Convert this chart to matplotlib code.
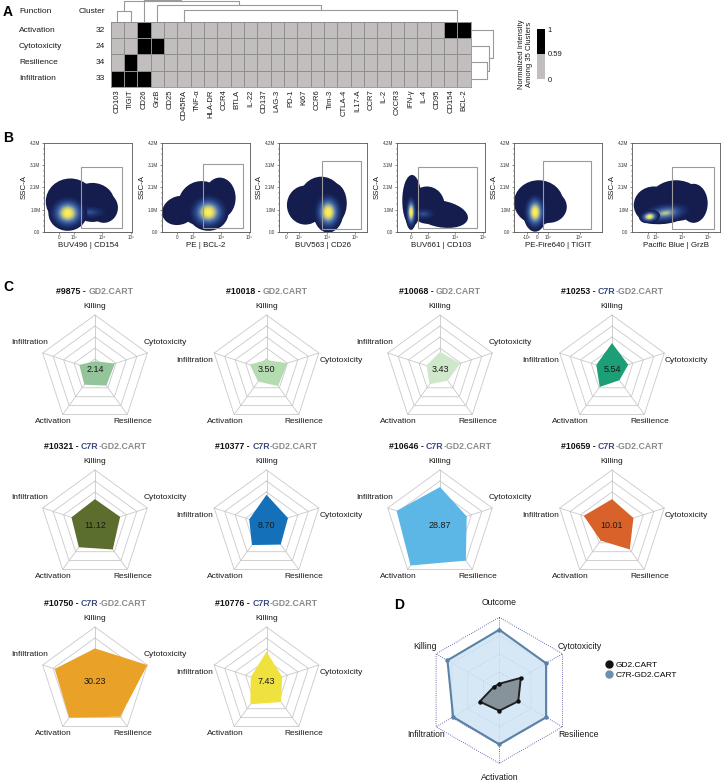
import numpy as np
import matplotlib
matplotlib.use("Agg")
import matplotlib.pyplot as plt
from matplotlib.patches import Ellipse, Rectangle
from matplotlib.colors import ListedColormap, BoundaryNorm, LinearSegmentedColormap
from matplotlib.cm import ScalarMappable
from matplotlib.lines import Line2D
from matplotlib import ticker

plt.rcParams['font.family'] = ['Liberation Sans', 'DejaVu Sans']

# ---------------- DATA ----------------
# Panel A
markers = ["CD103", "TIGIT", "CD26", "GrzB", "CD25", "CD45RA", "TNF-α", "HLA-DR", "CCR4",
           "BTLA", "IL-22", "CD137", "LAG-3", "PD-1", "Ki67", "CCR6", "Tim-3", "CTLA-4",
           "IL17-A", "CCR7", "IL-2", "CXCR3", "IFN-γ", "IL-4", "CD95", "CD154", "BCL-2"]
functions = ["Activation", "Cytotoxicity", "Resilience", "Infiltration"]
clusters = [32, 24, 34, 33]
high_markers = {"Activation": ["CD26", "CD154", "BCL-2"],
                "Cytotoxicity": ["CD26", "GrzB"],
                "Resilience": ["TIGIT"],
                "Infiltration": ["CD103", "TIGIT", "CD26"]}
high_level = 1.0
low_level = 0.3
threshold = 0.59
# column dendrogram links: (x_left, x_right, height, h_left_child, h_right_child)
col_links = [(0.5, 1.5, 11, 0, 0),
             (5.5, 26.0, 12, 0, 0),
             (3.5, 15.75, 17, 0, 12),
             (1.0, 9.625, 21, 11, 17),
             (2.5, 5.3125, 22.5, 0, 21)]
# row dendrogram links: (y_top, y_bottom, dist, d_top_child, d_bottom_child)
row_links = [(2.5, 3.5, 16, 0, 0),
             (1.5, 3.0, 18.6, 0, 16),
             (0.5, 2.25, 22, 0, 18.6)]

# Panel B
flow_labels = ["BUV496 | CD154", "PE | BCL-2", "BUV563 | CD26", "BUV661 | CD103",
               "PE-Fire640 | TIGIT", "Pacific Blue | GrzB"]
flow_xlim = [(-1060, 1.1e5), (-975, 1.06e5), (-630, 2.6e5), (-830, 1.2e5),
             (-2570, 5.2e4), (-1860, 2.8e5)]
flow_linscale = [0.46, 0.51, 0.38, 0.55, 0.31, 0.30]
flow_xticks = [[0, 1e3, 1e4, 1e5], [0, 1e3, 1e4, 1e5], [0, 1e3, 1e4, 1e5],
               [0, 1e3, 1e4, 1e5], [-1e3, 0, 1e3, 1e4], [0, 1e3, 1e4, 1e5]]
flow_xticklabels = [["0", "10³", "10⁴", "10⁵"], ["0", "10³", "10⁴", "10⁵"],
                    ["0", "10³", "10⁴", "10⁵"], ["0", "10³", "10⁴", "10⁵"],
                    ["-10³", "0", "10³", "10⁴"], ["0", "10³", "10⁴", "10⁵"]]
ssc_ticks = [0, 1.05e6, 2.1e6, 3.15e6, 4.2e6]
ssc_ticklabels = ["0.0", "1.0M", "2.1M", "3.1M", "4.2M"]
# gates in axes fraction: (x0, x1, y0, y1)
flow_gates = [(0.417, 0.89, 0.04, 0.733), (0.465, 0.928, 0.04, 0.76),
              (0.485, 0.928, 0.03, 0.80), (0.242, 0.906, 0.04, 0.733),
              (0.333, 0.875, 0.03, 0.80), (0.451, 0.932, 0.03, 0.733)]
# density clouds in axes fraction: (cx, cy, w, h, angle, peak level)
flow_clouds = [
    [(0.30, 0.34, 0.56, 0.52, 0, 0), (0.55, 0.33, 0.50, 0.44, 0, 0),
     (0.68, 0.27, 0.32, 0.34, 0, 0),
     (0.52, 0.22, 0.42, 0.16, 0, 0.35), (0.27, 0.21, 0.44, 0.40, 0, 1.0)],
    [(0.20, 0.24, 0.40, 0.32, 20, 0), (0.45, 0.32, 0.52, 0.50, 15, 0),
     (0.66, 0.38, 0.36, 0.46, 0, 0),
     (0.53, 0.22, 0.46, 0.42, 0, 1.0)],
    [(0.30, 0.30, 0.42, 0.44, 0, 0), (0.48, 0.36, 0.50, 0.52, 0, 0),
     (0.62, 0.32, 0.30, 0.46, 0, 0),
     (0.56, 0.22, 0.34, 0.46, 0, 1.0)],
    [(0.17, 0.35, 0.22, 0.58, 0, 0), (0.34, 0.30, 0.40, 0.42, 0, 0),
     (0.50, 0.20, 0.62, 0.30, -10, 0), (0.30, 0.20, 0.32, 0.15, 0, 0.35),
     (0.16, 0.22, 0.13, 0.40, 0, 1.0)],
    [(0.28, 0.33, 0.56, 0.50, 0, 0), (0.40, 0.28, 0.40, 0.36, 0, 0),
     (0.24, 0.22, 0.27, 0.44, 0, 1.0)],
    [(0.25, 0.30, 0.46, 0.42, 0, 0), (0.50, 0.35, 0.60, 0.46, 0, 0),
     (0.70, 0.32, 0.32, 0.44, 0, 0),
     (0.38, 0.21, 0.60, 0.24, 8, 0.7), (0.20, 0.17, 0.24, 0.15, 8, 1.0)],
]

# Panel C
radar_axes = ["Killing", "Cytotoxicity", "Resilience", "Activation", "Infiltration"]
samples = ["#9875", "#10018", "#10068", "#10253", "#10321", "#10377", "#10646", "#10659",
           "#10750", "#10776"]
products = ["GD2", "GD2", "GD2", "C7R", "C7R", "C7R", "C7R", "C7R", "C7R", "C7R"]
scores = [2.14, 3.50, 3.43, 5.54, 11.12, 8.70, 28.87, 10.01, 30.23, 7.43]
killing = [0.16, 0.18, 0.33, 0.49, 0.47, 0.55, 0.69, 0.47, 0.61, 0.55]
cytotoxicity = [0.38, 0.40, 0.39, 0.31, 0.48, 0.41, 0.51, 0.41, 1.00, 0.30]
resilience = [0.35, 0.36, 0.24, 0.23, 0.55, 0.44, 0.80, 0.55, 0.78, 0.45]
activation = [0.33, 0.26, 0.32, 0.38, 0.50, 0.45, 0.91, 0.35, 0.80, 0.50]
infiltration = [0.30, 0.32, 0.26, 0.30, 0.45, 0.33, 0.83, 0.54, 0.77, 0.30]
radar_colors = ["#93c49a", "#b4dcb0", "#cfe8cb", "#1c9e77", "#5b6e2d", "#1470b8",
                "#5cb6e6", "#d9622b", "#e9a227", "#f0e23e"]
label_style = ["above", "side", "above", "side", "above", "side", "above", "side",
               "above", "side"]

# Panel D
d_axes = ["Outcome", "Cytotoxicity", "Resilience", "Activation", "Infiltration", "Killing"]
gd2_vals = [0.09, 0.34, 0.30, 0.28, 0.31, 0.09]
c7r_vals = [0.83, 0.74, 0.74, 0.74, 0.73, 0.82]

# ---------------- FIGURE ----------------
W, H = 722, 782
fig = plt.figure(figsize=(W / 100, H / 100), dpi=100)


def rect(x0, y0, x1, y1):
    return [x0 / W, 1 - y1 / H, (x1 - x0) / W, (y1 - y0) / H]


def letter(x, y, s, size=10):
    fig.text(x / W, 1 - y / H, s, fontsize=size, fontweight='bold', va='center', ha='left')


TXT = '#1a1a1a'

# ---------- Panel A ----------
letter(3, 12, "A")
n_col, n_row = len(markers), len(functions)
mat = np.full((n_row, n_col), low_level)
for i, f in enumerate(functions):
    for m in high_markers[f]:
        mat[i, markers.index(m)] = high_level

cmapA = ListedColormap(['#c2bebe', '#000000'])
normA = BoundaryNorm([0, threshold, 1], 2)
axh = fig.add_axes(rect(110.5, 22, 470.7, 86.7))
axh.pcolormesh(mat, cmap=cmapA, norm=normA, edgecolors='#8e8e8e', linewidth=0.6)
axh.set_xlim(0, n_col)
axh.set_ylim(n_row, 0)
axh.set_xticks(np.arange(n_col) + 0.5)
axh.set_xticklabels(markers, rotation=90, fontsize=5.5, color=TXT)
axh.set_yticks([])
axh.tick_params(axis='x', length=0, pad=2)
for s in axh.spines.values():
    s.set_color('#8e8e8e')
    s.set_linewidth(0.6)
axh.text(-6.85, -0.62, "Function", fontsize=6, ha='left', va='center', color=TXT, clip_on=False)
axh.text(-0.41, -0.62, "Cluster", fontsize=6, ha='right', va='center', color=TXT, clip_on=False)
for i, (f, c) in enumerate(zip(functions, clusters)):
    axh.text(-6.85, i + 0.5, f, fontsize=6, ha='left', va='center', color=TXT, clip_on=False)
    axh.text(-0.41, i + 0.5, str(c), fontsize=6, ha='right', va='center', color=TXT, clip_on=False)

axd = fig.add_axes(rect(110.5, 0, 470.7, 22))
axd.set_xlim(0, n_col)
axd.set_ylim(0, 22)
axd.axis('off')
for xl, xr, h, hl, hr in col_links:
    axd.plot([xl, xl, xr, xr], [hl, h, h, hr], color='#9a9a9a', lw=0.8)

axr = fig.add_axes(rect(470.7, 22, 496, 86.7))
axr.set_xlim(0, 25.3)
axr.set_ylim(n_row, 0)
axr.axis('off')
for yt, yb, d, dt, db in row_links:
    axr.plot([dt, d, d, db], [yt, yt, yb, yb], color='#9a9a9a', lw=0.8)

cax = fig.add_axes(rect(537, 29, 545, 79))
cb = fig.colorbar(ScalarMappable(norm=normA, cmap=cmapA), cax=cax,
                  ticks=[0, threshold, 1], spacing='uniform')
cb.ax.set_yticklabels(['0', '0.59', '1'])
cb.outline.set_visible(False)
cax.tick_params(length=0, labelsize=5.5, pad=2, labelcolor=TXT)
cax.set_ylabel("Normalized Intensity\nAmong 35 Clusters", fontsize=5.5, color=TXT, labelpad=3)
cax.yaxis.set_label_position('left')

# ---------- Panel B ----------
letter(3, 138, "B")
cmapB = LinearSegmentedColormap.from_list(
    'flow', ['#141d4d', '#1d2f6b', '#2c4d8f', '#5677ab', '#a9b88f', '#efe25a', '#faf060'])
flow_left = [44, 161.7, 279, 397, 514, 632]


def minor_positions(lo, hi):
    vals = list(np.arange(-900, 901, 100))
    for k in range(3, 6):
        for m in range(2, 10):
            vals += [m * 10 ** k, -m * 10 ** k]
    return [v for v in vals if lo <= v <= hi]


for i in range(6):
    x0 = flow_left[i]
    ax = fig.add_axes(rect(x0, 143, x0 + 88, 231.7))
    ax.set_xscale('symlog', linthresh=1000, linscale=flow_linscale[i])
    ax.set_xlim(*flow_xlim[i])
    ax.set_ylim(0, 4.2e6)
    ax.set_xticks(flow_xticks[i])
    ax.set_xticklabels(flow_xticklabels[i])
    ax.xaxis.set_minor_locator(ticker.FixedLocator(minor_positions(*flow_xlim[i])))
    ax.set_yticks(ssc_ticks)
    ax.set_yticklabels(ssc_ticklabels)
    ax.yaxis.set_minor_locator(ticker.AutoMinorLocator(4))
    ax.tick_params(which='major', labelsize=3.3, length=1.6, width=0.4, pad=1, colors='#333333')
    ax.tick_params(which='minor', length=0.9, width=0.35, colors='#333333')
    for s in ax.spines.values():
        s.set_linewidth(0.6)
        s.set_color('#555555')
    ax.set_xlabel(flow_labels[i], fontsize=5.7, labelpad=1.5, color=TXT)
    ax.set_ylabel("SSC-A", fontsize=5.7, labelpad=1.5, color=TXT)
    ov = ax.inset_axes([0, 0, 1, 1])
    ov.set_zorder(1)
    ov.set_xlim(0, 1)
    ov.set_ylim(0, 1)
    ov.axis('off')
    ov.patch.set_visible(False)
    for cx, cy, w, h, ang, peak in flow_clouds[i]:
        if peak == 0:
            ov.add_patch(Ellipse((cx, cy), w, h, angle=ang, color=cmapB(0.0), lw=0))
        else:
            n = 18
            for k in range(n):
                t = k / (n - 1)
                sc = 1 - 0.9 * t
                ov.add_patch(Ellipse((cx, cy), w * sc, h * sc, angle=ang,
                                     color=cmapB(peak * t ** 1.2), lw=0))
    gx0, gx1, gy0, gy1 = flow_gates[i]
    ov.add_patch(Rectangle((gx0, gy0), gx1 - gx0, gy1 - gy0, fill=False,
                           edgecolor='#9a9a9a', lw=0.8))

# ---------- Panel C ----------
letter(3, 287, "C")
R = 55.0
col_cx = [95, 266.5, 440, 612]
row_cy = [370, 525, 682]
half = 88
ang5 = np.deg2rad([90, 18, -54, -126, 162])
renderer = fig.canvas.get_renderer()


def text_width(ax, s, **kw):
    t = ax.text(0, 0, s, **kw)
    w = t.get_window_extent(renderer).width
    t.remove()
    return w


def rich_text(ax, x, y, pieces, **kw):
    full = ''.join(p[0] for p in pieces)
    wx = text_width(ax, 'x', **kw)
    total = text_width(ax, full, **kw)
    x_px, y_px = ax.transData.transform((x, y))
    left = x_px - total / 2
    inv = ax.transData.inverted()
    acc = ''
    for s, c in pieces:
        off = (text_width(ax, acc + 'x', **kw) - wx) if acc else 0.0
        lead = len(s) - len(s.lstrip())
        if lead:
            off = text_width(ax, acc + s[:lead] + 'x', **kw) - wx
        px_ = inv.transform((left + off, y_px))[0]
        ax.text(px_, y, s.strip(), ha='left', va='center', color=c, **kw)
        acc += s


for j in range(len(samples)):
    cx = col_cx[j % 4]
    cy = row_cy[j // 4]
    ax = fig.add_axes(rect(cx - half, cy - half, cx + half, cy + half))
    lim = half / R
    ax.set_xlim(-lim, lim)
    ax.set_ylim(-lim, lim)
    ax.axis('off')
    for lev in [0.2, 0.4, 0.6, 0.8, 1.0]:
        xs = lev * np.cos(np.append(ang5, ang5[0]))
        ys = lev * np.sin(np.append(ang5, ang5[0]))
        ax.plot(xs, ys, color='#c9c9c9', lw=0.6, zorder=1)
    for a in ang5:
        ax.plot([0, np.cos(a)], [0, np.sin(a)], color='#c9c9c9', lw=0.6, zorder=1)
    vals = np.array([killing[j], cytotoxicity[j], resilience[j], activation[j], infiltration[j]])
    ax.fill(vals * np.cos(ang5), vals * np.sin(ang5), color=radar_colors[j], lw=0, zorder=2)
    ax.text(0, 0, f"{scores[j]:.2f}", fontsize=6.5, ha='center', va='center', color=TXT, zorder=3)
    lk = dict(fontsize=6, color=TXT)
    ax.text(0, 1.16, radar_axes[0], ha='center', va='center', **lk)
    ax.text(-0.75, -0.93, radar_axes[3], ha='center', va='center', **lk)
    ax.text(0.68, -0.93, radar_axes[2], ha='center', va='center', **lk)
    if label_style[j] == "above":
        ax.text(-1.19, 0.5, radar_axes[4], ha='center', va='center', **lk)
        ax.text(1.28, 0.5, radar_axes[1], ha='center', va='center', **lk)
    else:
        ax.text(-0.97, 0.18, radar_axes[4], ha='right', va='center', **lk)
        ax.text(0.96, 0.18, radar_axes[1], ha='left', va='center', **lk)
    if products[j] == "GD2":
        pieces = [(samples[j] + " - ", '#111111'), ("GD2.CART", '#8a8a8a')]
    else:
        pieces = [(samples[j] + " - ", '#111111'), ("C7R", '#3d4a80'), ("-GD2.CART", '#8a8a8a')]
    rich_text(ax, 0, 1.42, pieces, fontsize=6.3, fontweight='bold')

# ---------- Panel D ----------
letter(394, 605, "D")
RD = 73.0
dcx, dcy = 499.3, 690.3
axD = fig.add_axes(rect(dcx - 110, dcy - 95, dcx + 110, dcy + 95))
axD.set_xlim(-110 / RD, 110 / RD)
axD.set_ylim(-95 / RD, 95 / RD)
axD.axis('off')
ang6 = np.deg2rad([90, 30, -30, -90, -150, 150])
for lev in [0.25, 0.5, 0.75, 1.0]:
    xs = lev * np.cos(np.append(ang6, ang6[0]))
    ys = lev * np.sin(np.append(ang6, ang6[0]))
    axD.plot(xs, ys, color='#3b3b9a', lw=0.6, ls=(0, (1, 1.6)), zorder=1)
for a in ang6:
    axD.plot([0, np.cos(a)], [0, np.sin(a)], color='#3b3b9a', lw=0.6, ls=(0, (1, 1.6)), zorder=1)
cv = np.array(c7r_vals)
gv = np.array(gd2_vals)
cxs, cys = cv * np.cos(ang6), cv * np.sin(ang6)
gxs, gys = gv * np.cos(ang6), gv * np.sin(ang6)
axD.fill(cxs, cys, color='#cfe5f4', alpha=0.85, lw=0, zorder=2)
axD.plot(np.append(cxs, cxs[0]), np.append(cys, cys[0]), color='#5b82a6', lw=1.5, zorder=3)
axD.plot(cxs, cys, 'o', color='#5b82a6', ms=2.2, zorder=4)
axD.fill(gxs, gys, color='#86939a', lw=0, zorder=5)
axD.plot(np.append(gxs, gxs[0]), np.append(gys, gys[0]), color='#222222', lw=1.4, zorder=6)
axD.plot(gxs, gys, 'o', color='#111111', ms=2.2, zorder=7)
dk = dict(fontsize=6.2, color=TXT, ha='center', va='center')
axD.text(0, 1.2, d_axes[0], **dk)
axD.text(1.1, 0.6, d_axes[1], **dk)
axD.text(1.08, -0.61, d_axes[2], **dk)
axD.text(0, -1.2, d_axes[3], **dk)
axD.text(-1.0, -0.61, d_axes[4], **dk)
axD.text(-1.02, 0.6, d_axes[5], **dk)
handles = [Line2D([], [], marker='o', ls='', color='#111111', ms=5),
           Line2D([], [], marker='o', ls='', color='#6a8fb0', ms=5)]
fig.legend(handles, ["GD2.CART", "C7R-GD2.CART"], loc='upper left',
           bbox_to_anchor=(604 / W, 1 - 661 / H), frameon=False, fontsize=6,
           handletextpad=0.2, labelspacing=0.3, borderpad=0, borderaxespad=0,
           handlelength=1.2)

fig.savefig("out.png", dpi=100)
